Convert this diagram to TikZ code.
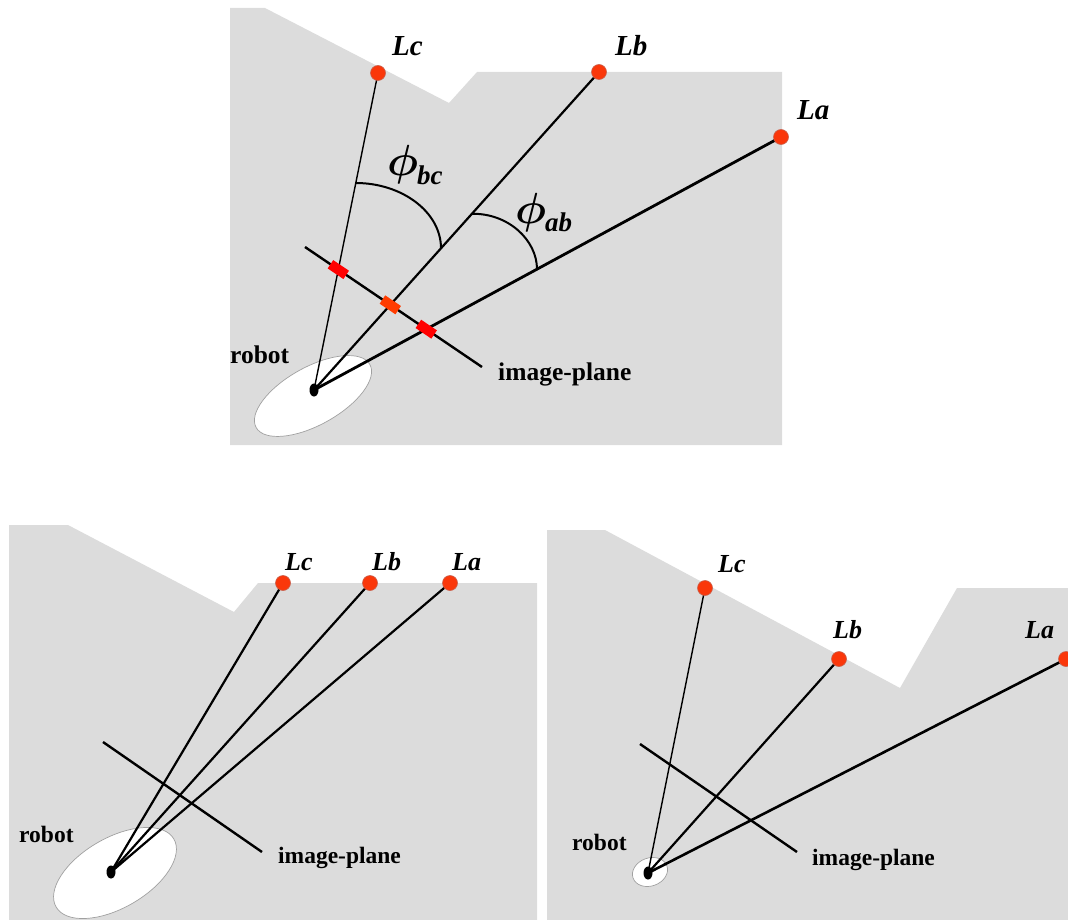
\documentclass[tikz,border=0pt]{standalone}
\usepackage{fontspec}
\setmainfont{Liberation Serif}
\usetikzlibrary{intersections,calc,shapes.geometric}
\definecolor{panel}{RGB}{220,220,220}
\definecolor{lmk}{RGB}{250,55,10}
\definecolor{lmkedge}{RGB}{200,95,75}
\definecolor{mkred}{RGB}{255,0,0}
\definecolor{mkorange}{RGB}{255,60,0}
\definecolor{ellout}{RGB}{160,160,160}
\pgfdeclarelayer{back}
\pgfdeclarelayer{lines}
\pgfsetlayers{back,lines,main}
\newcommand{\anglab}[1]{\scalebox{1.75}{\Huge\boldmath$\phi$}\kern-1pt\raisebox{-9pt}{\fontsize{27}{27}\selectfont\bfseries\itshape #1}}
\begin{document}
\begin{tikzpicture}[x=1pt,y=-1pt,
  landmark/.style={circle,fill=lmk,draw=lmkedge,line width=0.6pt,minimum size=15pt,inner sep=0pt},
  robotdot/.style={ellipse,fill=black,minimum width=9pt,minimum height=13pt,inner sep=0pt},
  rayline/.style={draw=black,line width=#1},
  rayline/.default=2.2pt,
  planeline/.style={draw=black,line width=2.4pt},
  arcline/.style={draw=black,line width=2pt},
  imgmark/.style={rectangle,minimum width=19pt,minimum height=10pt,inner sep=0pt,rotate=-34},
  bigl/.style={font=\fontsize{29}{29}\selectfont\bfseries\itshape,inner sep=0pt,anchor=base west},
  smalll/.style={font=\fontsize{26}{26}\selectfont\bfseries\itshape,inner sep=0pt,anchor=base west},
  bigtxt/.style={font=\fontsize{25.5}{25.5}\selectfont\bfseries,inner sep=0pt,anchor=base west},
  smalltxt/.style={font=\fontsize{23.5}{23.5}\selectfont\bfseries,inner sep=0pt,anchor=base west},
  anglelbl/.style={inner sep=0pt,anchor=base west},
  robotbody/.style={draw=ellout,fill=white,line width=0.7pt}]
\useasboundingbox (0,0) rectangle (1068,920);

% ================= top panel =================
\begin{pgfonlayer}{back}
\fill[panel] (230,8) -- (265,8) -- (449,103) -- (477,72) -- (782,72) -- (782,445) -- (230,445) -- cycle;
\draw[robotbody,rotate around={29:(313,396)}] (313,396) ellipse [x radius=65pt, y radius=29pt];
\end{pgfonlayer}
\node[robotdot] (r1) at (314,390) {};
\node[landmark] (c1) at (378,73) {};
\node[landmark] (b1) at (599,72) {};
\node[landmark] (a1) at (781,137) {};
\node[bigl] (lc1) at (392,56) {Lc};
\node[bigl] (lb1) at (615,56) {Lb};
\node[bigl] (la1) at (797,120) {La};
\node[bigtxt] (rt1) at (230,363) {robot};
\node[bigtxt] (it1) at (498,380) {image-plane};
\node[anglelbl] (phibc) at (387,176) {\anglab{bc}};
\node[anglelbl] (phiab) at (515,223) {\anglab{ab}};
\begin{pgfonlayer}{lines}
\draw[rayline=1.4pt,name path=rc1] (r1.center) -- (c1.center);
\draw[rayline=2.2pt,name path=rb1] (r1.center) -- (b1.center);
\draw[rayline=2.8pt,name path=ra1] (r1.center) -- (a1.center);
\coordinate (p1s) at (305,247);
\coordinate (p1e) at (482,367);
\draw[planeline,name path=pl1] (p1s) -- (p1e);
\draw[arcline] ($(r1)!0.653!(c1)$) .. controls (402,183) and (441,212) .. ($(r1)!0.4456!(b1)$);
\draw[arcline] ($(r1)!0.554!(b1)$) .. controls (508,213) and (537,240) .. ($(r1)!0.4775!(a1)$);
\path[name intersections={of=rc1 and pl1,by=x1}];
\path[name intersections={of=rb1 and pl1,by=x2}];
\path[name intersections={of=ra1 and pl1,by=x3}];
\node[imgmark,fill=mkred] (m1) at (x1) {};
\node[imgmark,fill=mkorange] (m2) at (x2) {};
\node[imgmark,fill=mkred] (m3) at (x3) {};
\end{pgfonlayer}

% ================= bottom-left panel =================
\begin{pgfonlayer}{back}
\fill[panel] (9,525) -- (68,525) -- (234,612) -- (258,583) -- (537,583) -- (537,920) -- (9,920) -- cycle;
\draw[robotbody,rotate around={30:(115,873)}] (115,873) ellipse [x radius=68pt, y radius=35pt];
\end{pgfonlayer}
\node[robotdot] (r2) at (111,872) {};
\node[landmark] (c2) at (283,583) {};
\node[landmark] (b2) at (370,583) {};
\node[landmark] (a2) at (450,583) {};
\node[smalll] (lc2) at (285,570) {Lc};
\node[smalll] (lb2) at (372,570) {Lb};
\node[smalll] (la2) at (452,570) {La};
\node[smalltxt] (rt2) at (19,842) {robot};
\node[smalltxt] (it2) at (278,863) {image-plane};
\begin{pgfonlayer}{lines}
\draw[rayline=2.2pt] (r2.center) -- (c2.center);
\draw[rayline=2.2pt] (r2.center) -- (b2.center);
\draw[rayline=2.2pt] (r2.center) -- (a2.center);
\coordinate (p2s) at (103,742);
\coordinate (p2e) at (262,852);
\draw[planeline] (p2s) -- (p2e);
\end{pgfonlayer}

% ================= bottom-right panel =================
\begin{pgfonlayer}{back}
\fill[panel] (547,530) -- (605,530) -- (900,688) -- (957,588) -- (1068,588) -- (1068,920) -- (547,920) -- cycle;
\draw[robotbody,rotate around={20:(650,872)}] (650,872) ellipse [x radius=18pt, y radius=14pt];
\end{pgfonlayer}
\node[robotdot] (r3) at (648,873) {};
\node[landmark] (c3) at (705,588) {};
\node[landmark] (b3) at (839,659) {};
\node[landmark] (a3) at (1066,659) {};
\node[smalll] (lc3) at (718,572) {Lc};
\node[smalll] (lb3) at (833,638) {Lb};
\node[smalll] (la3) at (1025,638) {La};
\node[smalltxt] (rt3) at (572,850) {robot};
\node[smalltxt] (it3) at (812,865) {image-plane};
\begin{pgfonlayer}{lines}
\draw[rayline=1.4pt] (r3.center) -- (c3.center);
\draw[rayline=2.2pt] (r3.center) -- (b3.center);
\draw[rayline=2.6pt] (r3.center) -- (a3.center);
\coordinate (p3s) at (640,744);
\coordinate (p3e) at (797,852);
\draw[planeline] (p3s) -- (p3e);
\end{pgfonlayer}
\end{tikzpicture}
\end{document}
